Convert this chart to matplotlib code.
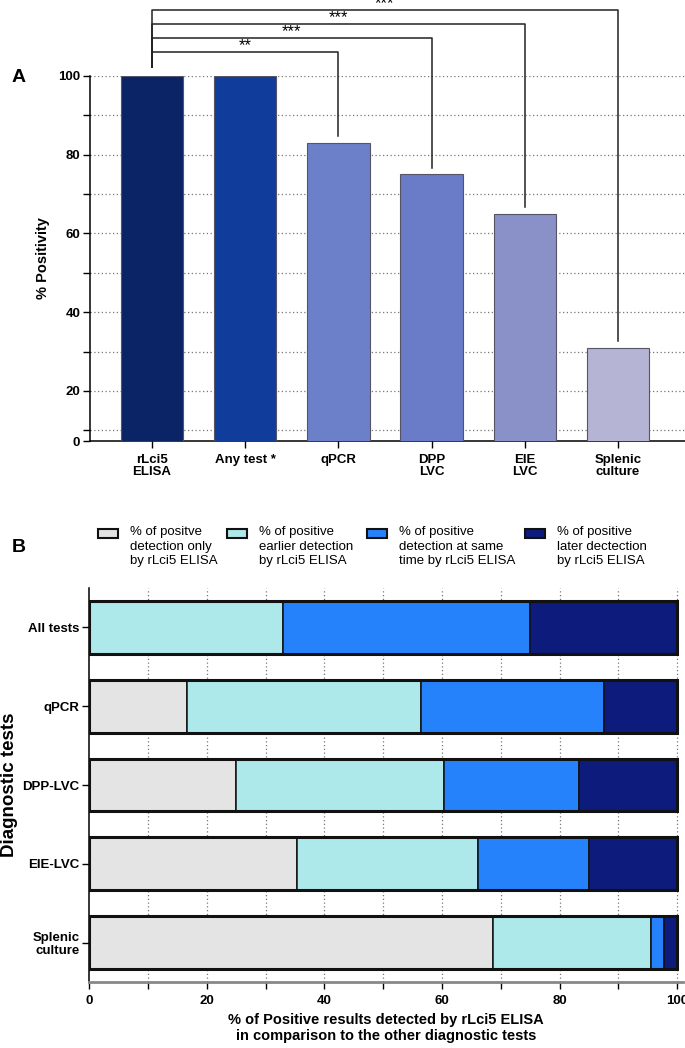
import numpy as np
import matplotlib
matplotlib.use('Agg')
import matplotlib.pyplot as plt
from matplotlib import font_manager
from matplotlib.ticker import MultipleLocator

# fonts
names = {f.name for f in font_manager.fontManager.ttflist}
narrow = 'Liberation Sans Narrow' if 'Liberation Sans Narrow' in names else 'Liberation Sans'
plt.rcParams['font.family'] = [narrow, 'DejaVu Sans']

# Panel A data
testsA = ['rLci5\nELISA', 'Any test *', 'qPCR', 'DPP\nLVC', 'EIE\nLVC', 'Splenic\nculture']
positivity = [100, 100, 83, 75, 65, 31]
colorsA = ['#0b2466', '#103c9b', '#6b80c8', '#6a7cc8', '#8a91c8', '#b6b4d4']
sig_targets = [2, 3, 4, 5]
sig_labels = ['**', '***', '***', '***']

# Panel B data
testsB = ['All tests', 'qPCR', 'DPP-LVC', 'EIE-LVC', 'Splenic\nculture']
only_elisa = [0, 16.7, 25.0, 35.3, 68.7]
earlier = [33.0, 39.8, 35.3, 30.9, 26.9]
same_time = [42.0, 31.0, 23.0, 18.8, 2.2]
later = [25.0, 12.5, 16.7, 15.0, 2.2]
seg_names = ['% of positve\ndetection only\nby rLci5 ELISA',
             '% of positive\nearlier detection\nby rLci5 ELISA',
             '% of positive\ndetection at same\ntime by rLci5 ELISA',
             '% of positive\nlater dectection\nby rLci5 ELISA']
colorsB = ['#e4e4e4', '#ade8ea', '#2682fb', '#0c1b7c']

W, H = 685, 1048
fig = plt.figure(figsize=(W / 100, H / 100), dpi=100)

def frac(x0, y0, x1, y1):
    return [x0 / W, 1 - y1 / H, (x1 - x0) / W, (y1 - y0) / H]

bold = dict(fontweight='bold', family='Liberation Sans')

# ---------------- Panel A ----------------
axA = fig.add_axes(frac(90, 75.7, 685, 441))
xa = np.arange(len(testsA))
axA.bar(xa, positivity, width=0.67, color=colorsA, edgecolor='#555566', linewidth=0.8, zorder=3)
y_floor = 7.3
axA.set_ylim(y_floor, 100)
axA.set_xlim(-0.665, 5.72)
axA.set_yticks([y_floor, 20, 40, 60, 80, 100])
axA.set_yticklabels(['0', '20', '40', '60', '80', '100'], fontsize=9.5, **bold)
axA.yaxis.set_minor_locator(MultipleLocator(10))
for v in range(10, 101, 10):
    axA.axhline(v, color='#777777', linestyle=(0, (1, 2)), linewidth=0.9, zorder=1)
axA.set_xticks(xa)
axA.set_xticklabels(testsA, fontsize=9.5, linespacing=1.0, **bold)
axA.tick_params(axis='both', which='major', length=5, width=1, pad=2)
axA.tick_params(axis='y', which='minor', length=5, width=1)
axA.tick_params(axis='x', pad=4)
for s in ['top', 'right']:
    axA.spines[s].set_visible(False)
axA.spines['left'].set_linewidth(1.1)
axA.spines['bottom'].set_linewidth(1.1)
axA.set_ylabel('% Positivity', fontsize=10.5, labelpad=6, **bold)

# significance brackets
for k, (t, lab) in enumerate(zip(sig_targets, sig_labels)):
    top = 106.0 + 3.55 * k
    axA.plot([0, 0, t, t], [102.2, top, top, positivity[t] + 1.7], color='#222222',
             linewidth=1.1, clip_on=False, zorder=4)
    axA.text(t / 2, top - 0.3, lab, ha='center', va='bottom', fontsize=12,
             family='Liberation Sans', clip_on=False)

fig.text(12 / W, 1 - 77 / H, 'A', fontsize=14, va='center', **bold)

# ---------------- Panel B ----------------
axB = fig.add_axes(frac(89.3, 588, 683, 982))
yb = np.arange(len(testsB))
left = np.zeros(len(testsB))
handles = []
for vals, col, name in zip([only_elisa, earlier, same_time, later], colorsB, seg_names):
    h = axB.barh(yb, vals, left=left, height=0.67, color=col, edgecolor='#111111',
                 linewidth=1.1, zorder=3, label=name)
    handles.append(h)
    left = left + np.array(vals)
axB.barh(yb, left, height=0.67, fill=False, edgecolor='#111111', linewidth=2.2, zorder=4)
axB.set_ylim(4.5, -0.5)
axB.set_xlim(0, 101.0)
axB.set_yticks(yb)
axB.set_yticklabels(testsB, fontsize=9.5, linespacing=1.1, **bold)
axB.set_xticks(range(0, 101, 20))
axB.set_xticklabels([str(v) for v in range(0, 101, 20)], fontsize=9.5, **bold)
axB.xaxis.set_minor_locator(MultipleLocator(10))
for v in range(10, 101, 10):
    axB.axvline(v, color='#777777', linestyle=(0, (1, 2)), linewidth=0.9, zorder=1)
axB.tick_params(axis='x', which='both', length=5, width=1, pad=4)
axB.tick_params(axis='y', length=5, width=1, pad=2)
for s in ['top', 'right']:
    axB.spines[s].set_visible(False)
axB.spines['left'].set_linewidth(1.1)
axB.spines['bottom'].set_linewidth(2)
axB.spines['bottom'].set_color('#888888')
axB.set_xlabel('% of Positive results detected by rLci5 ELISA\nin comparison to the other diagnostic tests',
               fontsize=10.5, labelpad=5, linespacing=1.15, **bold)
axB.set_ylabel('Diagnostic tests', fontsize=13.5, labelpad=3, **bold)

fig.text(12 / W, 1 - 547 / H, 'B', fontsize=14, va='center', **bold)

# legend placed manually as four columns
leg_x = [98, 227, 367, 525]
for h, name, x0 in zip(handles, seg_names, leg_x):
    col = h.patches[0].get_facecolor()
    fig.patches.append(plt.Rectangle((x0 / W, 1 - 538 / H), 20 / W, 9 / H, transform=fig.transFigure,
                                     facecolor=col, edgecolor='#111111', linewidth=1.5))
    fig.text((x0 + 32) / W, 1 - 526 / H, name, fontsize=9.5, va='top', ha='left', linespacing=1.28)

fig.savefig('out.png', dpi=100)
